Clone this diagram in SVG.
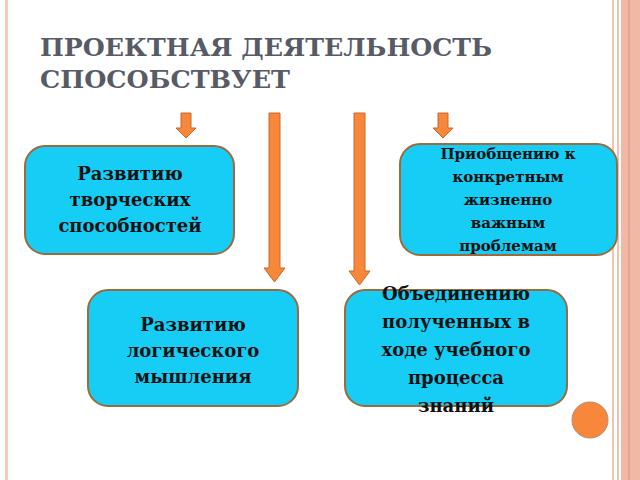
<svg xmlns="http://www.w3.org/2000/svg" width="640" height="480" viewBox="0 0 640 480">
<style>
.box{fill:#15cdf5;stroke:#9c6a3c;stroke-width:2}
.arr{fill:#f7873a;stroke:#c8692a;stroke-width:1}
.t{font-family:"DejaVu Serif","Liberation Serif",serif;font-weight:bold;fill:#111;text-anchor:middle}
.h{font-family:"DejaVu Serif","Liberation Serif",serif;font-weight:bold;fill:#565b66}
</style>
<rect width="640" height="480" fill="#fff"/>
<rect x="5" y="0" width="3" height="480" fill="#f9c8b8"/>
<rect x="612" y="0" width="2" height="480" fill="#f4c0b0"/>
<rect x="617" y="0" width="2" height="480" fill="#f4c0b0"/>
<rect x="621" y="0" width="19" height="480" fill="#f2b8a6"/>
<rect x="628" y="0" width="2" height="480" fill="#eaa590"/>
<text class="h" x="40" y="56" font-size="25" textLength="452" lengthAdjust="spacingAndGlyphs">ПРОЕКТНАЯ ДЕЯТЕЛЬНОСТЬ</text>
<text class="h" x="40" y="88" font-size="25" textLength="250" lengthAdjust="spacingAndGlyphs">СПОСОБСТВУЕТ</text>
<g id="connectors">
<path class="arr" d="M181,113 h10 v15 h5 l-10,10 l-10,-10 h5z"/>
<path class="arr" d="M269,113 h11 v155 h5 l-10.5,14 l-10.5,-14 h5z"/>
<path class="arr" d="M354,113 h11 v158 h5 l-10.5,14 l-10.5,-14 h5z"/>
<path class="arr" d="M438,113 h10 v15 h5 l-10,10 l-10,-10 h5z"/>
</g>
<g id="n1"><rect class="box" x="25" y="146" width="209" height="108" rx="20"/>
<text class="t" font-size="18"><tspan x="130" y="180">Развитию</tspan><tspan x="130" y="206">творческих</tspan><tspan x="130" y="232">способностей</tspan></text></g>
<g id="n2"><rect class="box" x="400" y="144" width="217" height="111" rx="20"/>
<text class="t" font-size="15"><tspan x="508" y="159">Приобщению к</tspan><tspan x="508" y="182">конкретным</tspan><tspan x="508" y="205">жизненно</tspan><tspan x="508" y="228">важным</tspan><tspan x="508" y="251">проблемам</tspan></text></g>
<g id="n3"><rect class="box" x="88" y="290" width="210" height="116" rx="20"/>
<text class="t" font-size="18"><tspan x="193" y="331">Развитию</tspan><tspan x="193" y="357">логического</tspan><tspan x="193" y="383">мышления</tspan></text></g>
<g id="n4"><rect class="box" x="345" y="290" width="222" height="116" rx="20"/>
<text class="t" font-size="18"><tspan x="456" y="300">Объединению</tspan><tspan x="456" y="328">полученных в</tspan><tspan x="456" y="356">ходе учебного</tspan><tspan x="456" y="384">процесса</tspan><tspan x="456" y="412">знаний</tspan></text></g>
<circle cx="590" cy="420" r="18" fill="#f7873a" stroke="#b88a6a" stroke-width="1"/>
</svg>
